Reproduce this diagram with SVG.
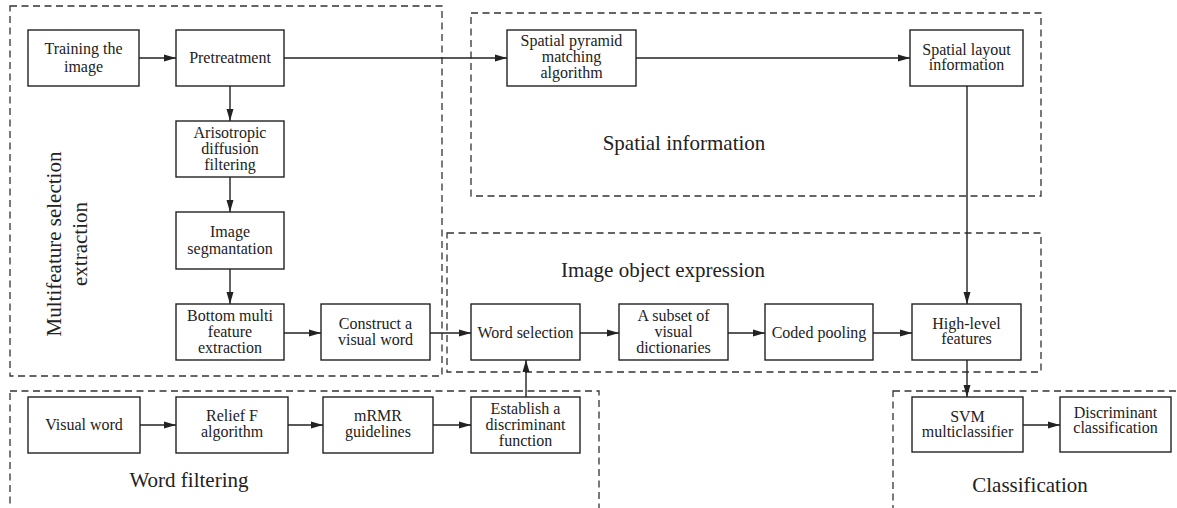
<svg xmlns="http://www.w3.org/2000/svg" width="1177" height="508" viewBox="0 0 1177 508">
<defs>
<marker id="ah" markerWidth="12" markerHeight="8" refX="12" refY="4" orient="auto" markerUnits="userSpaceOnUse">
<path d="M0,0.5 L12,4 L0,7.5 z" fill="#222"/>
</marker>
<style>
.grp{fill:none;stroke:#333;stroke-width:1.3;stroke-dasharray:7 4.5}
.box{fill:#fff;stroke:#222;stroke-width:1.4}
.t{font-family:"Liberation Serif","Times New Roman",serif;font-size:16px;fill:#222;text-anchor:middle}
.lbl{font-family:"Liberation Serif","Times New Roman",serif;font-size:21px;fill:#222;text-anchor:middle}
.c{fill:none;stroke:#222;stroke-width:1.4}
.ca{fill:none;stroke:#222;stroke-width:1.4;marker-end:url(#ah)}
</style>
</defs>
<rect width="1177" height="508" fill="#fff"/>

<g id="groups">
<rect class="grp" x="10" y="6" width="432" height="370"/>
<rect class="grp" x="471" y="13" width="570" height="183"/>
<rect class="grp" x="447" y="233" width="594" height="139"/>
<rect class="grp" x="10" y="391" width="589" height="140"/>
<rect class="grp" x="893" y="391" width="300" height="140"/>
<text class="lbl" transform="translate(61,244) rotate(-90)">Multifeature selection</text>
<text class="lbl" transform="translate(87,244) rotate(-90)">extraction</text>
<text class="lbl" x="684" y="150">Spatial information</text>
<text class="lbl" x="663" y="277">Image object expression</text>
<text class="lbl" x="189" y="487">Word filtering</text>
<text class="lbl" x="1030" y="492">Classification</text>
</g>

<g id="connectors">
<line class="ca" x1="139" y1="58" x2="176" y2="58"/>
<line class="ca" x1="284" y1="58" x2="507" y2="58"/>
<line class="ca" x1="636" y1="58" x2="910" y2="58"/>
<line class="ca" x1="230" y1="86" x2="230" y2="121"/>
<line class="ca" x1="230" y1="177" x2="230" y2="212"/>
<line class="ca" x1="230" y1="269" x2="230" y2="304"/>
<line class="ca" x1="284" y1="333" x2="321" y2="333"/>
<line class="ca" x1="430" y1="333" x2="471" y2="333"/>
<line class="ca" x1="580" y1="333" x2="619" y2="333"/>
<line class="ca" x1="728" y1="333" x2="765" y2="333"/>
<line class="ca" x1="873" y1="333" x2="912" y2="333"/>
<line class="ca" x1="967" y1="86" x2="967" y2="304"/>
<line class="ca" x1="967" y1="360" x2="967" y2="397"/>
<line class="ca" x1="1023" y1="425" x2="1060" y2="425"/>
<line class="ca" x1="140" y1="425" x2="176" y2="425"/>
<line class="ca" x1="288" y1="425" x2="323" y2="425"/>
<line class="ca" x1="433" y1="425" x2="471" y2="425"/>
<line class="ca" x1="526" y1="397" x2="526" y2="360"/>
</g>

<g id="training">
<rect class="box" x="28" y="30" width="111" height="56"/>
<text class="t" x="83.5" y="54">Training the</text>
<text class="t" x="83.5" y="72">image</text>
</g>
<g id="pretreatment">
<rect class="box" x="176" y="30" width="108" height="56"/>
<text class="t" x="230" y="63">Pretreatment</text>
</g>
<g id="arisotropic">
<rect class="box" x="176" y="121" width="108" height="56"/>
<text class="t" x="230" y="138">Arisotropic</text>
<text class="t" x="230" y="154">diffusion</text>
<text class="t" x="230" y="170">filtering</text>
</g>
<g id="segmentation">
<rect class="box" x="176" y="212" width="108" height="57"/>
<text class="t" x="230" y="237">Image</text>
<text class="t" x="230" y="254">segmantation</text>
</g>
<g id="bottom">
<rect class="box" x="176" y="304" width="108" height="56"/>
<text class="t" x="230" y="321">Bottom multi</text>
<text class="t" x="230" y="337">feature</text>
<text class="t" x="230" y="353">extraction</text>
</g>
<g id="construct">
<rect class="box" x="321" y="304" width="109" height="56"/>
<text class="t" x="375.5" y="329">Construct a</text>
<text class="t" x="375.5" y="345">visual word</text>
</g>
<g id="pyramid">
<rect class="box" x="507" y="30" width="129" height="56"/>
<text class="t" x="571.5" y="46">Spatial pyramid</text>
<text class="t" x="571.5" y="62">matching</text>
<text class="t" x="571.5" y="78">algorithm</text>
</g>
<g id="layout">
<rect class="box" x="910" y="30" width="113" height="56"/>
<text class="t" x="966.5" y="55">Spatial layout</text>
<text class="t" x="966.5" y="70">information</text>
</g>
<g id="wordselection">
<rect class="box" x="471" y="304" width="109" height="56"/>
<text class="t" x="525.5" y="338">Word selection</text>
</g>
<g id="subset">
<rect class="box" x="619" y="304" width="109" height="56"/>
<text class="t" x="673.5" y="321">A subset of</text>
<text class="t" x="673.5" y="337">visual</text>
<text class="t" x="673.5" y="353">dictionaries</text>
</g>
<g id="coded">
<rect class="box" x="765" y="304" width="108" height="56"/>
<text class="t" x="819" y="338">Coded pooling</text>
</g>
<g id="highlevel">
<rect class="box" x="912" y="304" width="109" height="56"/>
<text class="t" x="966.5" y="329">High-level</text>
<text class="t" x="966.5" y="344">features</text>
</g>
<g id="svm">
<rect class="box" x="912" y="397" width="111" height="55"/>
<text class="t" x="967.5" y="422">SVM</text>
<text class="t" x="967.5" y="437">multiclassifier</text>
</g>
<g id="discriminant">
<rect class="box" x="1060" y="397" width="111" height="55"/>
<text class="t" x="1115.5" y="418">Discriminant</text>
<text class="t" x="1115.5" y="433">classification</text>
</g>
<g id="visualword">
<rect class="box" x="28" y="397" width="112" height="56"/>
<text class="t" x="84" y="430">Visual word</text>
</g>
<g id="relief">
<rect class="box" x="176" y="397" width="112" height="56"/>
<text class="t" x="232" y="421">Relief F</text>
<text class="t" x="232" y="437">algorithm</text>
</g>
<g id="mrmr">
<rect class="box" x="323" y="397" width="110" height="56"/>
<text class="t" x="378" y="421">mRMR</text>
<text class="t" x="378" y="437">guidelines</text>
</g>
<g id="establish">
<rect class="box" x="471" y="397" width="109" height="56"/>
<text class="t" x="525.5" y="414">Establish a</text>
<text class="t" x="525.5" y="430">discriminant</text>
<text class="t" x="525.5" y="446">function</text>
</g>
</svg>
